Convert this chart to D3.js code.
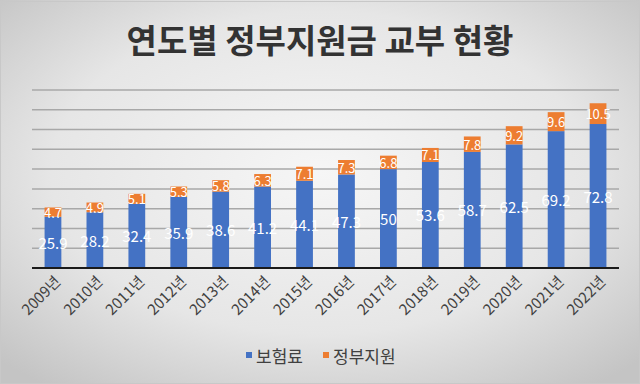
<html>
<head>
<meta charset="UTF-8" />
<title>연도별 정부지원금 교부 현황</title>
<script src="https://d3js.org/d3.v7.min.js"></script>
<style>
  body { margin: 0; }
  text { font-family: "Noto Sans CJK KR", "Noto Sans", sans-serif; }
</style>
</head>
<body>
<svg id="chart" width="640" height="384"></svg>
<script>
const years = ["2009년","2010년","2011년","2012년","2013년","2014년","2015년","2016년","2017년","2018년","2019년","2020년","2021년","2022년"];
const premium = [25.9, 28.2, 32.4, 35.9, 38.6, 41.2, 44.1, 47.3, 50, 53.6, 58.7, 62.5, 69.2, 72.8];
const support = [4.7, 4.9, 5.1, 5.3, 5.8, 6.3, 7.1, 7.3, 6.8, 7.1, 7.8, 9.2, 9.6, 10.5];
const seriesNames = ["보험료", "정부지원"];
const colors = ["#4472C4", "#ED7D31"];

let svg = d3.select("svg#chart");
const width = +svg.attr("width");
const height = +svg.attr("height");
const margin = {top: 90, right: 21, bottom: 116, left: 32};

// background
let defs = svg.append("defs");
let grad = defs.append("radialGradient").attr("id", "bg")
    .attr("cx", "50%").attr("cy", "45%").attr("r", "70%");
grad.append("stop").attr("offset", "0%").attr("stop-color", "#f6f6f6");
grad.append("stop").attr("offset", "60%").attr("stop-color", "#e6e6e6");
grad.append("stop").attr("offset", "100%").attr("stop-color", "#c4c4c4");
svg.append("rect").attr("width", width).attr("height", height).attr("fill", "url(#bg)");
svg.append("rect").attr("x", 0.5).attr("y", 1.5).attr("width", width - 1).attr("height", height - 2)
    .attr("fill", "none").attr("stroke", "#c8c8c8");

const x = d3.scaleBand().domain(years).range([margin.left, width - margin.right]).paddingInner(0.6).paddingOuter(0.3);
const y = d3.scaleLinear().domain([0, 90]).range([height - margin.bottom, margin.top]);

// gridlines
svg.append("g")
    .selectAll("line")
    .data(y.ticks(9).filter(d => d > 0))
    .join("line")
    .attr("x1", margin.left).attr("x2", width - margin.right)
    .attr("y1", d => y(d)).attr("y2", d => y(d))
    .attr("stroke", "#a8a8a8").attr("stroke-width", 1.5);

// title
svg.append("text")
    .attr("x", width / 2).attr("y", 53)
    .attr("text-anchor", "middle")
    .attr("font-size", "33px").attr("font-weight", "bold")
    .attr("fill", "#333")
    .text("연도별 정부지원금 교부 현황");

// bars
let bars = svg.append("g");
years.forEach((yr, i) => {
    bars.append("rect")
        .attr("x", x(yr)).attr("width", x.bandwidth())
        .attr("y", y(premium[i])).attr("height", y(0) - y(premium[i]))
        .attr("fill", colors[0]);
    bars.append("rect")
        .attr("x", x(yr)).attr("width", x.bandwidth())
        .attr("y", y(premium[i] + support[i])).attr("height", y(premium[i]) - y(premium[i] + support[i]))
        .attr("fill", colors[1]);
});

// value labels
let labels = svg.append("g").attr("fill", "white").attr("text-anchor", "middle");
years.forEach((yr, i) => {
    const cx = x(yr) + x.bandwidth() / 2;
    labels.append("text")
        .attr("x", cx).attr("y", y(premium[i] / 2))
        .attr("dominant-baseline", "central")
        .attr("font-size", "15px")
        .text(premium[i]);
    labels.append("text")
        .attr("x", cx).attr("y", y(premium[i] + support[i] / 2))
        .attr("dominant-baseline", "central")
        .attr("font-size", "13px")
        .text(support[i]);
});

// x axis line
svg.append("line")
    .attr("x1", margin.left).attr("x2", width - margin.right)
    .attr("y1", y(0)).attr("y2", y(0))
    .attr("stroke", "#1a1a1a").attr("stroke-width", 2);

// x labels
svg.append("g")
    .selectAll("text")
    .data(years)
    .join("text")
    .attr("transform", d => `translate(${x(d) + x.bandwidth() / 2 + 4},${y(0) + 10}) rotate(-45)`)
    .attr("text-anchor", "end")
    .attr("dominant-baseline", "central")
    .attr("font-size", "15px")
    .attr("fill", "#404040")
    .text(d => d);

// legend
let legend = svg.append("g").attr("transform", "translate(246,355)");
const legendX = [0, 77];
seriesNames.forEach((name, i) => {
    legend.append("rect")
        .attr("x", legendX[i]).attr("y", -3).attr("width", 6).attr("height", 6)
        .attr("fill", colors[i]);
    legend.append("text")
        .attr("x", legendX[i] + 10).attr("y", 0)
        .attr("dominant-baseline", "central")
        .attr("font-size", "17px")
        .attr("fill", "#404040")
        .text(name);
});
</script>
</body>
</html>
